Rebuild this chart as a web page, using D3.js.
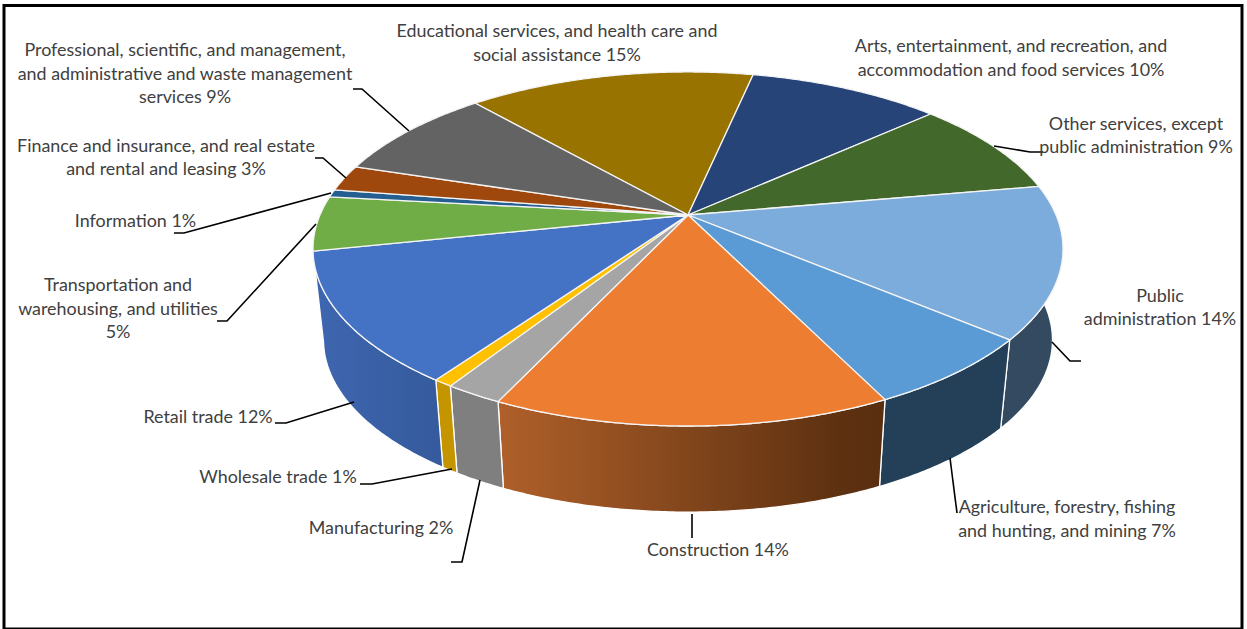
<!DOCTYPE html>
<html><head><meta charset="utf-8">
<script src="https://cdn.jsdelivr.net/npm/d3@7/dist/d3.min.js"></script>
<style>html,body{margin:0;padding:0;background:#fff}svg{display:block}text{font-family:Lato,"Open Sans",sans-serif;font-size:17.9px;fill:#404040;text-anchor:middle}</style>
</head><body><svg id="c" width="1247" height="629"></svg>
<script>
const categories=["Educational services, and health care and social assistance","Arts, entertainment, and recreation, and accommodation and food services","Other services, except public administration","Public administration","Agriculture, forestry, fishing and hunting, and mining","Construction","Manufacturing","Wholesale trade","Retail trade","Transportation and warehousing, and utilities","Information","Finance and insurance, and real estate and rental and leasing","Professional, scientific, and management, and administrative and waste management services"];
const values=[14.9,10.0,8.9,13.9,6.6,14.35,2.1,0.7,11.95,5.0,0.7,2.4,8.7];
const percentLabels=["15%","10%","9%","14%","7%","14%","2%","1%","12%","5%","1%","3%","9%"];
const labelLines=[
["Educational services, and health care and","social assistance 15%"],
["Arts, entertainment, and recreation, and","accommodation and food services 10%"],
["Other services, except","public administration 9%"],
["Public","administration 14%"],
["Agriculture, forestry, fishing","and hunting, and mining 7%"],
["Construction 14%"],["Manufacturing 2%"],["Wholesale trade 1%"],["Retail trade 12%"],
["Transportation and","warehousing, and utilities","5%"],
["Information 1%"],
["Finance and insurance, and real estate","and rental and leasing 3%"],
["Professional, scientific, and management,","and administrative and waste management","services 9%"]];

// --- styling and layout (not data) ---
const topColors=["#997300","#264478","#43682b","#7cacdc","#5b9bd5","#ed7d31","#a5a5a5","#ffc000","#4472c4","#70ad47","#255e91","#9e480e","#636363"];
const sideColors={3:"#334a60",4:"#243f58",5:"url(#gc)",6:"#7f7f7f",7:"#c59500",8:"url(#gr)"};
const labelPos=[[557,[37,61]],[1011,[52,76]],[1136,[130,153]],[1160,[302,325]],[1067,[513,537]],[718,[556]],[381,[534]],[278,[483]],[208,[423]],[118,[291,315,338]],[135.5,[227]],[166,[152,175]],[185,[56,79.5,103]]];
const leaders=[null,null,
[[994,146],[1030,152],[1043,152]],
[[1052,342],[1070,361],[1081,361]],
[[950,458],[957,513]],
[[692,514],[692,538]],
[[480,480],[462,562],[451,562]],
[[452,469],[372,484],[360,484]],
[[354,402],[286,423],[275,423]],
[[316,224],[227,321],[217,321]],
[[331,193],[184,233],[174,233]],
[[346,178],[323,158],[315,158]],
[[409,131],[362,89],[353,89]]];
const cx=688,cy=215,R=368,S=170.5,K=0.192,shrink=0.972,lowerCy=307;
const deg=Math.PI/180;

const svg=d3.select("#c");
const defs=svg.append("defs");
function grad(id,x1,x2,stops){const g=defs.append("linearGradient").attr("id",id).attr("gradientUnits","userSpaceOnUse").attr("x1",x1).attr("x2",x2).attr("y1",0).attr("y2",0);
 stops.forEach(s=>g.append("stop").attr("offset",s[0]).attr("stop-color",s[1]));}
grad("gc",497,885,[[0,"#b0602a"],[0.9,"#5c3010"],[1,"#5a2f10"]]);
grad("gr",315,445,[[0,"#3e66b0"],[1,"#355a9c"]]);

svg.append("rect").attr("x",4).attr("y",5.5).attr("width",1238).attr("height",623.5).attr("fill","#fff").attr("stroke","#000").attr("stroke-width",3);

const pie=d3.pie().sort(null).value(d=>d).startAngle(-41.4*deg).endAngle(318.6*deg);
const arcs=pie(values);
function project(t){const u=Math.sin(t),v=-Math.cos(t),w=1-K*v;return [cx+R*u/w,cy+S*v/w];}
function lower(p){return [cx+shrink*(p[0]-cx),lowerCy+shrink*(p[1]-cy)];}
function samples(a0,a1){const n=Math.max(2,Math.ceil((a1-a0)/(0.5*deg)));return d3.range(n+1).map(i=>a0+(a1-a0)*i/n);}
const line=d3.line();

// side walls
const gSide=svg.append("g");
arcs.forEach((a,i)=>{
 if(!(i in sideColors))return;
 const a0=Math.max(a.startAngle,78*deg),a1=Math.min(a.endAngle,282*deg);
 const up=samples(a0,a1).map(project);
 const low=up.map(lower).reverse();
 gSide.append("path").attr("d",line(up.concat(low))+"Z").attr("fill",sideColors[i]).attr("stroke","#fff").attr("stroke-width",1.3).attr("stroke-linejoin","round");
});
// top
const gTop=svg.append("g");
gTop.selectAll("path").data(arcs).join("path")
 .attr("d",a=>line([[cx,cy]].concat(samples(a.startAngle,a.endAngle).map(project)))+"Z")
 .attr("fill",(a,i)=>topColors[i]).attr("stroke","#f4f4f4").attr("stroke-width",1.3).attr("stroke-linejoin","round");
// leaders
svg.append("g").selectAll("path").data(leaders.filter(Boolean)).join("path")
 .attr("d",d=>line(d)).attr("fill","none").attr("stroke","#000").attr("stroke-width",1.6);
// labels
const gL=svg.append("g");
labelLines.forEach((ls,i)=>{ls.forEach((s,j)=>{gL.append("text").attr("x",labelPos[i][0]).attr("y",labelPos[i][1][j]).text(s);});});
</script></body></html>
